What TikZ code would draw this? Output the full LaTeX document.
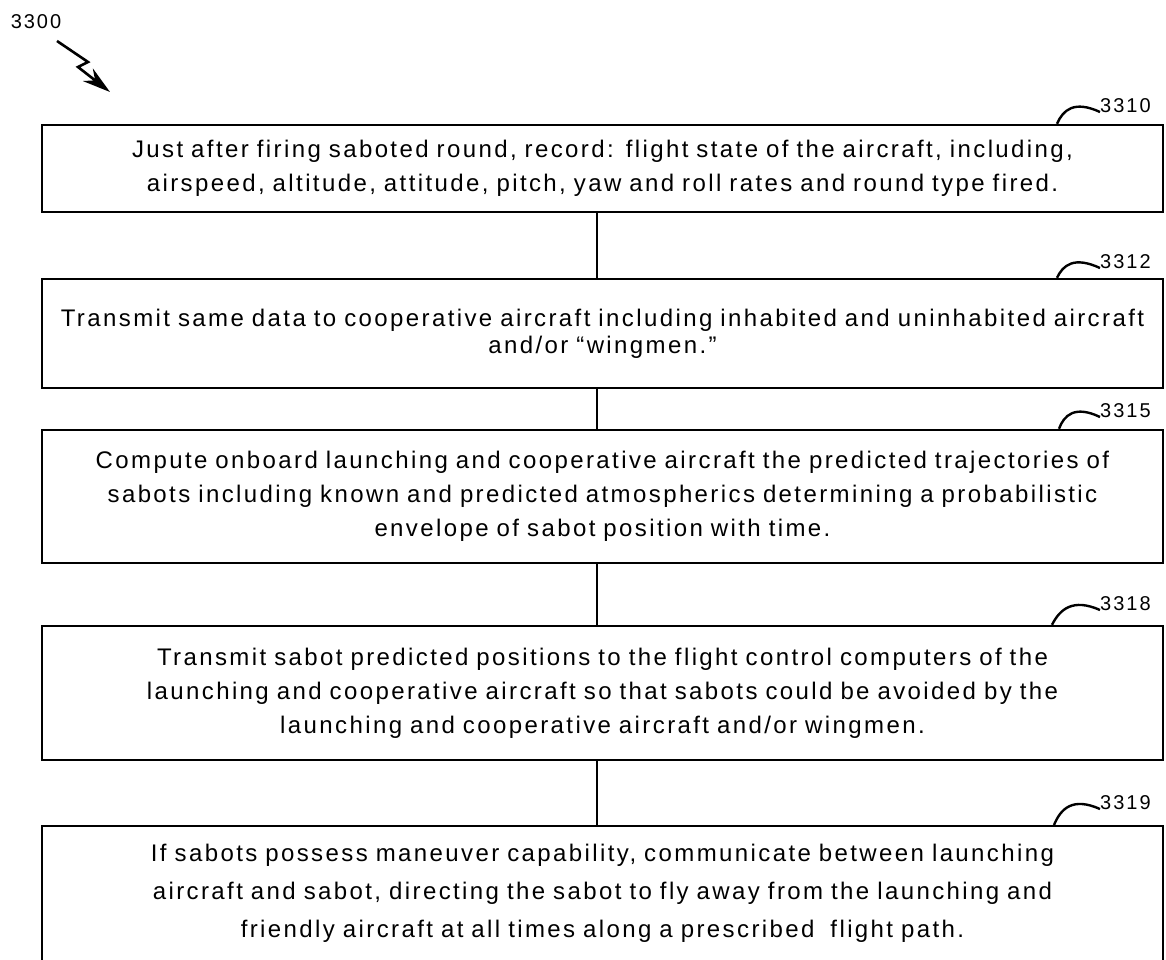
\documentclass[tikz,border=0pt]{standalone}
\usepackage{fontspec}
\setmainfont{Liberation Sans}[LetterSpace=10]
\usetikzlibrary{arrows.meta}
\begin{document}
\begin{tikzpicture}[x=1pt,y=-1pt,
  procbox/.style={draw=black, line width=2.4pt, minimum width=1121pt, inner sep=0pt,
    text width=1115pt, align=center, font=\fontsize{24}{34}\selectfont},
  boxtext/.style={inner sep=0pt, text width=1115pt, align=center, font=\fontsize{24}{38}\selectfont},
  conn/.style={draw=black, line width=2.4pt},
  leader/.style={draw=black, line width=2.4pt},
  reflabel/.style={inner sep=0pt, font=\fontsize{20}{24}\selectfont, anchor=west}]
\useasboundingbox (0,0) rectangle (1166,960);
\fill[white] (0,0) rectangle (1166,960);

% figure number and arrow
\node[inner sep=0pt, font=\fontsize{20}{24}\selectfont] (fig) at (36,22) {3300};
\coordinate (za) at (57,41);
\coordinate (zb) at (88,62);
\coordinate (zc) at (78,67);
\coordinate (zd) at (110,92);
\draw[line width=2.6pt, -{Stealth[length=28pt,width=16pt]}] (za) -- (zb) -- (zc) -- (zd);

% boxes
\node[procbox, minimum height=87pt] (b1) at (602.5,168.5)
  {Just after firing saboted round, record: flight state of the aircraft, including,\\
   airspeed, altitude, attitude, pitch, yaw and roll rates and round type fired.};
\node[procbox, minimum height=109pt, font=\fontsize{24}{27}\selectfont] (b2) at (602.5,333.5)
  {Transmit same data to cooperative aircraft including inhabited and uninhabited aircraft\\
   and/or ``wingmen.''};
\node[procbox, minimum height=133pt] (b3) at (602.5,496.5)
  {Compute onboard launching and cooperative aircraft the predicted trajectories of\\
   sabots including known and predicted atmospherics determining a probabilistic\\
   envelope of sabot position with time.};
\node[procbox, minimum height=134pt] (b4) at (602.5,693)
  {Transmit sabot predicted positions to the flight control computers of the\\
   launching and cooperative aircraft so that sabots could be avoided by the\\
   launching and cooperative aircraft and/or wingmen.};
\node[procbox, minimum height=200pt, anchor=north] (b5) at (602.5,825) {};
\node[boxtext, anchor=north] (b5t) at (602.5,844)
  {If sabots possess maneuver capability, communicate between launching\\
   aircraft and sabot, directing the sabot to fly away from the launching and\\
   friendly aircraft at all times along a prescribed\ \ flight path.};

% connectors
\draw[conn] (b1.south -| 597,0) -- (b2.north -| 597,0);
\draw[conn] (b2.south -| 597,0) -- (b3.north -| 597,0);
\draw[conn] (b3.south -| 597,0) -- (b4.north -| 597,0);
\draw[conn] (b4.south -| 597,0) -- (b5.north -| 597,0);

% reference labels with leaders
\node[reflabel] (l1) at (1100,106) {3310};
\node[reflabel] (l2) at (1100,262) {3312};
\node[reflabel] (l3) at (1100,411) {3315};
\node[reflabel] (l4) at (1100,604) {3318};
\node[reflabel] (l5) at (1100,803) {3319};
\draw[leader] (b1.north -| 1057,0) .. controls (1063,110) and (1074,100) .. ([yshift=-6pt]l1.west);
\draw[leader] (b2.north -| 1057,0) .. controls (1063,265) and (1074,256) .. ([yshift=-6pt]l2.west);
\draw[leader] (b3.north -| 1059,0) .. controls (1064,415) and (1075,405) .. ([yshift=-6pt]l3.west);
\draw[leader] (b4.north -| 1052,0) .. controls (1060,609) and (1073,598) .. ([yshift=-6pt]l4.west);
\draw[leader] (b5.north -| 1054,0) .. controls (1061,808) and (1073,797) .. ([yshift=-6pt]l5.west);
\end{tikzpicture}
\end{document}
